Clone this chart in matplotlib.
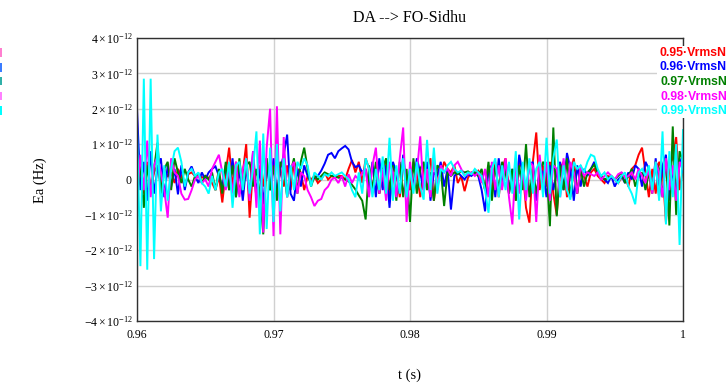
import numpy as np
import matplotlib
matplotlib.use("Agg")
import matplotlib.pyplot as plt
from matplotlib.patches import Rectangle
from matplotlib.ticker import FixedLocator, FixedFormatter

plt.rcParams["mathtext.fontset"] = "custom"
plt.rcParams["mathtext.rm"] = "Liberation Serif"
plt.rcParams["mathtext.it"] = "Liberation Serif:italic"
plt.rcParams["mathtext.bf"] = "Liberation Serif:bold"

# time axis (s)
t_start, t_step, n_pts = 0.96, 0.00025, 161

# Ea error series (units of 1e-12 Hz)
ea_095 = [
    0.0, 0.3, -0.4, 0.5, -0.3, 0.2, 0.4, -0.2, 0.3, 0.1,
    0.2, -0.1, 0.3, 0.1, -0.2, 0.15, 0.2, 0.1, 0.15, 0.05,
    0.1, 0.05, -0.1, -0.3, 0.1, -0.65, 0.2, 0.9, -0.2, 0.5,
    -0.4, 0.2, 1.0, -1.08, 0.3, -0.5, 0.4, -0.2, 0.6, -0.3,
    0.5, -0.4, 0.3, -0.2, 0.4, -0.3, 0.5, 0.3, 0.2, -0.3,
    0.1, 0.0, 0.1, -0.1, 0.0, 0.2, 0.0, 0.1, 0.05, 0.1,
    0.1, 0.0, 0.3, 0.55, 0.2, 0.5, -0.1, 0.6, 0.3, -0.3,
    0.4, -0.4, 0.2, 0.5, -0.6, 0.3, 0.2, -0.5, 0.4, 0.1,
    -0.3, 0.5, 0.2, -0.5, 0.4, 0.3, 0.6, -0.6, 0.2, 0.1,
    0.5, 0.3, 0.2, 0.4, -0.1, 0.1, -0.33, 0.05, 0.2, 0.15,
    0.25, 0.1, -0.3, 0.4, -0.4, 0.5, -0.5, 0.3, 0.6, -0.3,
    0.2, -0.6, 0.5, 0.3, -0.8, -1.22, 0.5, 1.33, -0.3, 0.4,
    -0.2, 0.5, -0.4, -1.0, 0.3, 0.5, -0.5, 0.2, 0.6, -0.4,
    0.3, 0.1, -0.2, 0.2, 0.3, 0.1, 0.0, -0.1, 0.1, 0.05,
    0.0, -0.1, 0.05, 0.1, -0.2, 0.3, 0.4, 0.7, 0.9, 0.2,
    -0.5, 0.3, -0.4, 0.5, 0.3, -1.22, 0.4, 0.6, 1.2, -0.3, 0.3,
]
ea_096 = [
    2.0, -0.3, 0.5, -0.6, 0.8, -0.4, 0.3, 0.6, -0.5, 0.4,
    -0.2, 0.3, -0.42, 0.4, -0.3, 0.2, 0.37, 0.1, -0.1, 0.2,
    0.0, 0.2, 0.3, 0.37, 0.1, -0.2, 0.4, -0.3, 0.6, -0.5,
    0.3, -0.6, 0.4, -0.5, 0.8, -0.4, 0.3, -0.7, 0.5, -0.3,
    0.6, -0.5, 0.3, 0.7, 1.27, -0.4, -0.6, 0.3, -0.2, 0.4,
    0.1, -0.1, 0.05, 0.1, 0.25, 0.45, 0.7, 0.75, 0.6, 0.8,
    0.88, 0.95, 0.85, 0.5, 0.35, 0.4, 0.2, 0.3, -0.3, 0.5,
    -0.5, 0.6, -0.3, 0.4, -0.8, 0.5, 0.2, -0.4, 0.7, -0.3,
    0.3, -0.2, 0.6, 0.2, -0.3, 0.5, -0.6, 0.2, 0.1, 0.5,
    -0.2, 0.3, -0.85, 0.1, 0.2, 0.1, 0.0, 0.15, 0.1, 0.2,
    0.1, -0.3, -0.9, 0.3, 0.4, -0.5, 0.6, -0.2, 0.5, -0.4,
    0.3, -0.5, 0.7, 0.2, -0.3, 0.4, 0.5, -0.6, 0.3, 0.2,
    -0.5, 0.4, -0.3, 0.2, 0.5, -0.3, 0.75, 0.3, -0.6, 0.4,
    -0.2, 0.3, 0.1, 0.3, 0.5, 0.2, 0.1, 0.0, -0.1, 0.1,
    -0.2, 0.0, 0.1, -0.1, 0.2, 0.0, 0.4, 0.3, -0.2, 0.5,
    0.3, -0.3, 0.6, -0.5, 0.4, 0.7, -0.6, 0.3, -0.4, 0.6, 0.2,
]
ea_097 = [
    -0.5, 0.5, -0.8, 0.4, -0.3, 0.3, 1.04, -0.4, 0.3, 0.5,
    -0.3, 0.6, 0.2, -0.1, 0.3, 0.0, -0.2, 0.1, 0.15, -0.1,
    0.1, 0.0, 0.2, -0.3, 0.3, -0.4, 0.5, -0.3, 0.4, -0.5,
    0.6, -0.3, 0.4, 0.5, -0.2, 0.3, -0.4, -1.55, 0.6, -0.3,
    0.4, -0.6, 0.5, 0.3, -0.5, 0.2, 0.6, -0.4, 0.5, 0.9,
    0.3, -0.2, 0.1, 0.0, 0.1, 0.2, 0.15, 0.1, 0.1, 0.05,
    0.05, 0.0, -0.05, -0.15, -0.28, -0.45, -0.6, -1.13, 0.4, -0.3,
    0.5, -0.4, 0.3, 0.6, -0.3, 0.4, -0.6, 0.5, -0.5, 0.3,
    -1.2, 0.6, -0.4, 0.3, 0.5, -0.3, 0.2, -0.6, 0.4, 0.3,
    -0.75, 0.2, 0.1, 0.2, 0.15, 0.25, 0.2, 0.23, 0.15, 0.2,
    0.1, 0.3, -0.3, 0.5, -0.6, 0.4, -0.3, 0.5, 0.2, -0.4,
    0.3, -0.6, 0.4, -0.3, 1.0, -0.5, 0.3, -0.4, 0.2, 0.5,
    0.3, -1.32, 1.47, -1.04, 0.4, -0.3, 0.6, -0.5, 0.3, -0.4,
    0.3, -0.2, 0.2, 0.3, 0.42, 0.2, 0.1, 0.0, 0.05, 0.1,
    0.0, 0.1, 0.2, -0.1, 0.1, 0.3, -0.2, 0.1, 0.2, -0.3,
    0.2, -0.4, 0.5, 0.3, -0.5, 0.6, -1.3, 1.5, -1.0, 0.8, 0.5,
]
ea_098 = [
    -0.5, 0.7, -0.3, 1.1, -0.5, 0.4, 0.65, 0.2, -0.3, -1.08,
    0.6, 0.2, 0.1, -0.4, -0.57, -0.55, -0.3, 0.0, 0.1, -0.1,
    0.0, -0.2, 0.3, 0.5, 0.7, 0.2, -0.3, 0.4, -0.4, 0.5,
    -0.5, 0.3, 0.6, -0.6, 0.8, -0.8, 1.1, -1.5, 0.9, 2.0,
    -1.6, 2.07, -1.55, 1.2, -0.5, 0.3, 0.5, -0.4, 0.2, 0.1,
    -0.3, -0.5, -0.75, -0.6, -0.55, -0.3, -0.2, 0.0, 0.05, -0.1,
    0.1, -0.2, 0.15, -0.1, 0.1, 0.0, 0.2, 0.3, -0.5, 0.4,
    0.9, -0.4, 0.3, -0.6, 0.5, 0.2, -0.5, 0.6, 1.47, -1.2,
    0.5, -0.3, 0.2, 1.22, -0.4, 0.3, -0.5, 0.6, -0.3, 0.4,
    0.2, 0.3, 0.1, 0.4, 0.5, 0.3, 0.1, 0.15, 0.2, 0.1,
    0.2, -0.1, 0.3, -0.5, 0.5, -0.3, 0.4, -0.3, 0.6, -0.5,
    -1.27, 0.6, -0.4, 0.3, -0.6, 0.5, 0.4, -1.2, 0.7, -0.3,
    0.5, -0.6, 0.4, 0.3, -0.5, 0.6, -0.3, 0.5, 0.2, -0.4,
    0.4, 0.1, 0.2, 0.15, 0.1, 0.2, 0.0, 0.1, 0.2, 0.1,
    0.0, 0.15, 0.2, 0.05, 0.1, 0.2, 0.0, 0.3, 0.1, -0.1,
    0.3, -0.4, 0.5, 0.2, -0.5, 0.6, -0.3, 0.4, -0.6, 0.5, 0.3,
]
ea_099 = [
    1.5, -2.45, 2.85, -2.55, 2.85, -2.25, 1.27, -0.9, 0.4, -0.6,
    0.3, 0.8, 0.9, 0.5, -0.2, 0.2, 0.3, 0.1, 0.2, -0.1,
    -0.2, -0.4, 0.1, -0.3, 0.2, 0.3, -0.2, 0.5, -0.8, 0.4,
    0.5, -0.3, 0.6, -0.4, 0.3, 1.36, -1.55, 1.3, -1.4, 0.9,
    -1.2, 1.0, -0.9, 0.6, -0.5, 0.4, -0.3, 0.5, 0.3, 0.6,
    0.4, -0.2, 0.2, 0.1, 0.0, 0.15, 0.1, 0.2, 0.1, 0.15,
    0.2, 0.1, 0.0, -0.3, -0.5, 0.2, -0.4, 0.6, 0.3, -0.5,
    0.3, -0.3, 0.65, -0.4, 1.18, -0.6, 0.4, -0.4, 0.6, -0.5,
    0.3, -0.4, 0.5, -0.2, -0.57, 1.12, -0.3, 0.9, -0.4, 0.3,
    0.2, 0.4, 0.5, 0.3, 0.2, 0.25, 0.1, 0.2, 0.15, 0.3,
    0.2, 0.1, -0.3, -0.94, 0.3, 0.6, -0.5, 0.4, -0.3, 0.5,
    -0.4, 0.8, -1.13, 0.5, -0.3, 0.6, -0.4, 0.3, 0.5, -0.5,
    1.18, -0.4, 0.6, 1.13, -0.5, 0.4, -0.3, -0.57, 0.5, 0.3,
    0.4, 0.2, 0.5, 0.7, 0.65, 0.3, 0.1, 0.2, 0.0, 0.1,
    0.0, -0.1, 0.1, 0.2, -0.2, -0.4, -0.7, 0.2, 0.3, 0.1,
    0.4, -0.3, 0.5, -0.6, 1.36, -1.27, 0.8, -0.5, 1.0, -1.85, 1.4,
]

series_labels = ["0.95·VrmsN", "0.96·VrmsN", "0.97·VrmsN", "0.98·VrmsN", "0.99·VrmsN"]
series_colors = ["#ff0000", "#0000ff", "#008000", "#ff00ff", "#00ffff"]

x_ticks = [0.96, 0.97, 0.98, 0.99, 1.0]
x_tick_labels = ["0.96", "0.97", "0.98", "0.99", "1"]
y_ticks = [-4, -3, -2, -1, 0, 1, 2, 3, 4]
y_tick_labels = [
    r"$-4\times10^{-12}$", r"$-3\times10^{-12}$", r"$-2\times10^{-12}$",
    r"$-1\times10^{-12}$", r"$0$", r"$1\times10^{-12}$", r"$2\times10^{-12}$",
    r"$3\times10^{-12}$", r"$4\times10^{-12}$",
]

t = t_start + t_step * np.arange(n_pts)
scale = 1e-12

W, H = 728, 383
fig = plt.figure(figsize=(W / 100, H / 100), dpi=100)
ax = fig.add_axes([137 / W, 1 - 321 / H, (683 - 137) / W, (321 - 38) / H])

for vals, col in zip([ea_095, ea_096, ea_097, ea_098, ea_099], series_colors):
    ax.plot(t, np.array(vals) * scale, color=col, lw=1.4, solid_joinstyle="miter")

ax.set_xlim(0.96, 1.0)
ax.set_ylim(-4e-12, 4e-12)
ax.xaxis.set_major_locator(FixedLocator(x_ticks))
ax.xaxis.set_major_formatter(FixedFormatter(x_tick_labels))
ax.yaxis.set_major_locator(FixedLocator([v * scale for v in y_ticks]))
ax.yaxis.set_major_formatter(FixedFormatter(y_tick_labels))
ax.grid(True, color="#d0d0d0", lw=1.0)
ax.set_axisbelow(True)
ax.tick_params(axis="y", length=0, pad=3, labelsize=8.5)
ax.tick_params(axis="x", length=0, pad=6, labelsize=8.5)
for lab in ax.get_xticklabels():
    lab.set_fontfamily("Liberation Serif")
for sp in ax.spines.values():
    sp.set_color("#303030")
    sp.set_linewidth(1.0)

# legend block: coloured labels on a white patch at the right edge
fig.patches.append(Rectangle((657 / W, 1 - 118 / H), (W - 657) / W, 72 / H,
                             transform=fig.transFigure, facecolor="white",
                             edgecolor="none", zorder=5))
for k, (lab, col) in enumerate(zip(series_labels, series_colors)):
    fig.text(727 / W, 1 - (53 + 14.5 * k) / H, lab, color=col, ha="right",
             va="center", fontsize=8.8, fontweight="bold",
             family="Liberation Sans", zorder=6)

# small coloured marks at the left edge
edge_marks = [(48, 57, "#ff7fd0"), (63, 72, "#3a7cff"), (77, 85, "#30b0a8"),
              (92, 100, "#ff80ff"), (106, 115, "#00ffff")]
for y0, y1, col in edge_marks:
    fig.patches.append(Rectangle((0, 1 - y1 / H), 2 / W, (y1 - y0) / H,
                                 transform=fig.transFigure, facecolor=col,
                                 edgecolor="none"))

fig.text(410 / W, 1 - 18 / H, "DA --> FO-Sidhu", ha="center", va="center",
         fontsize=11.5, family="Liberation Serif")
fig.text(410 / W, 1 - 375 / H, "t (s)", ha="center", va="center",
         fontsize=10.5, family="Liberation Serif")
fig.text(40 / W, 1 - 180 / H, "Ea (Hz)", ha="center", va="center",
         rotation=90, fontsize=10.5, family="Liberation Serif")

fig.savefig("out.png", dpi=100, facecolor="white")
